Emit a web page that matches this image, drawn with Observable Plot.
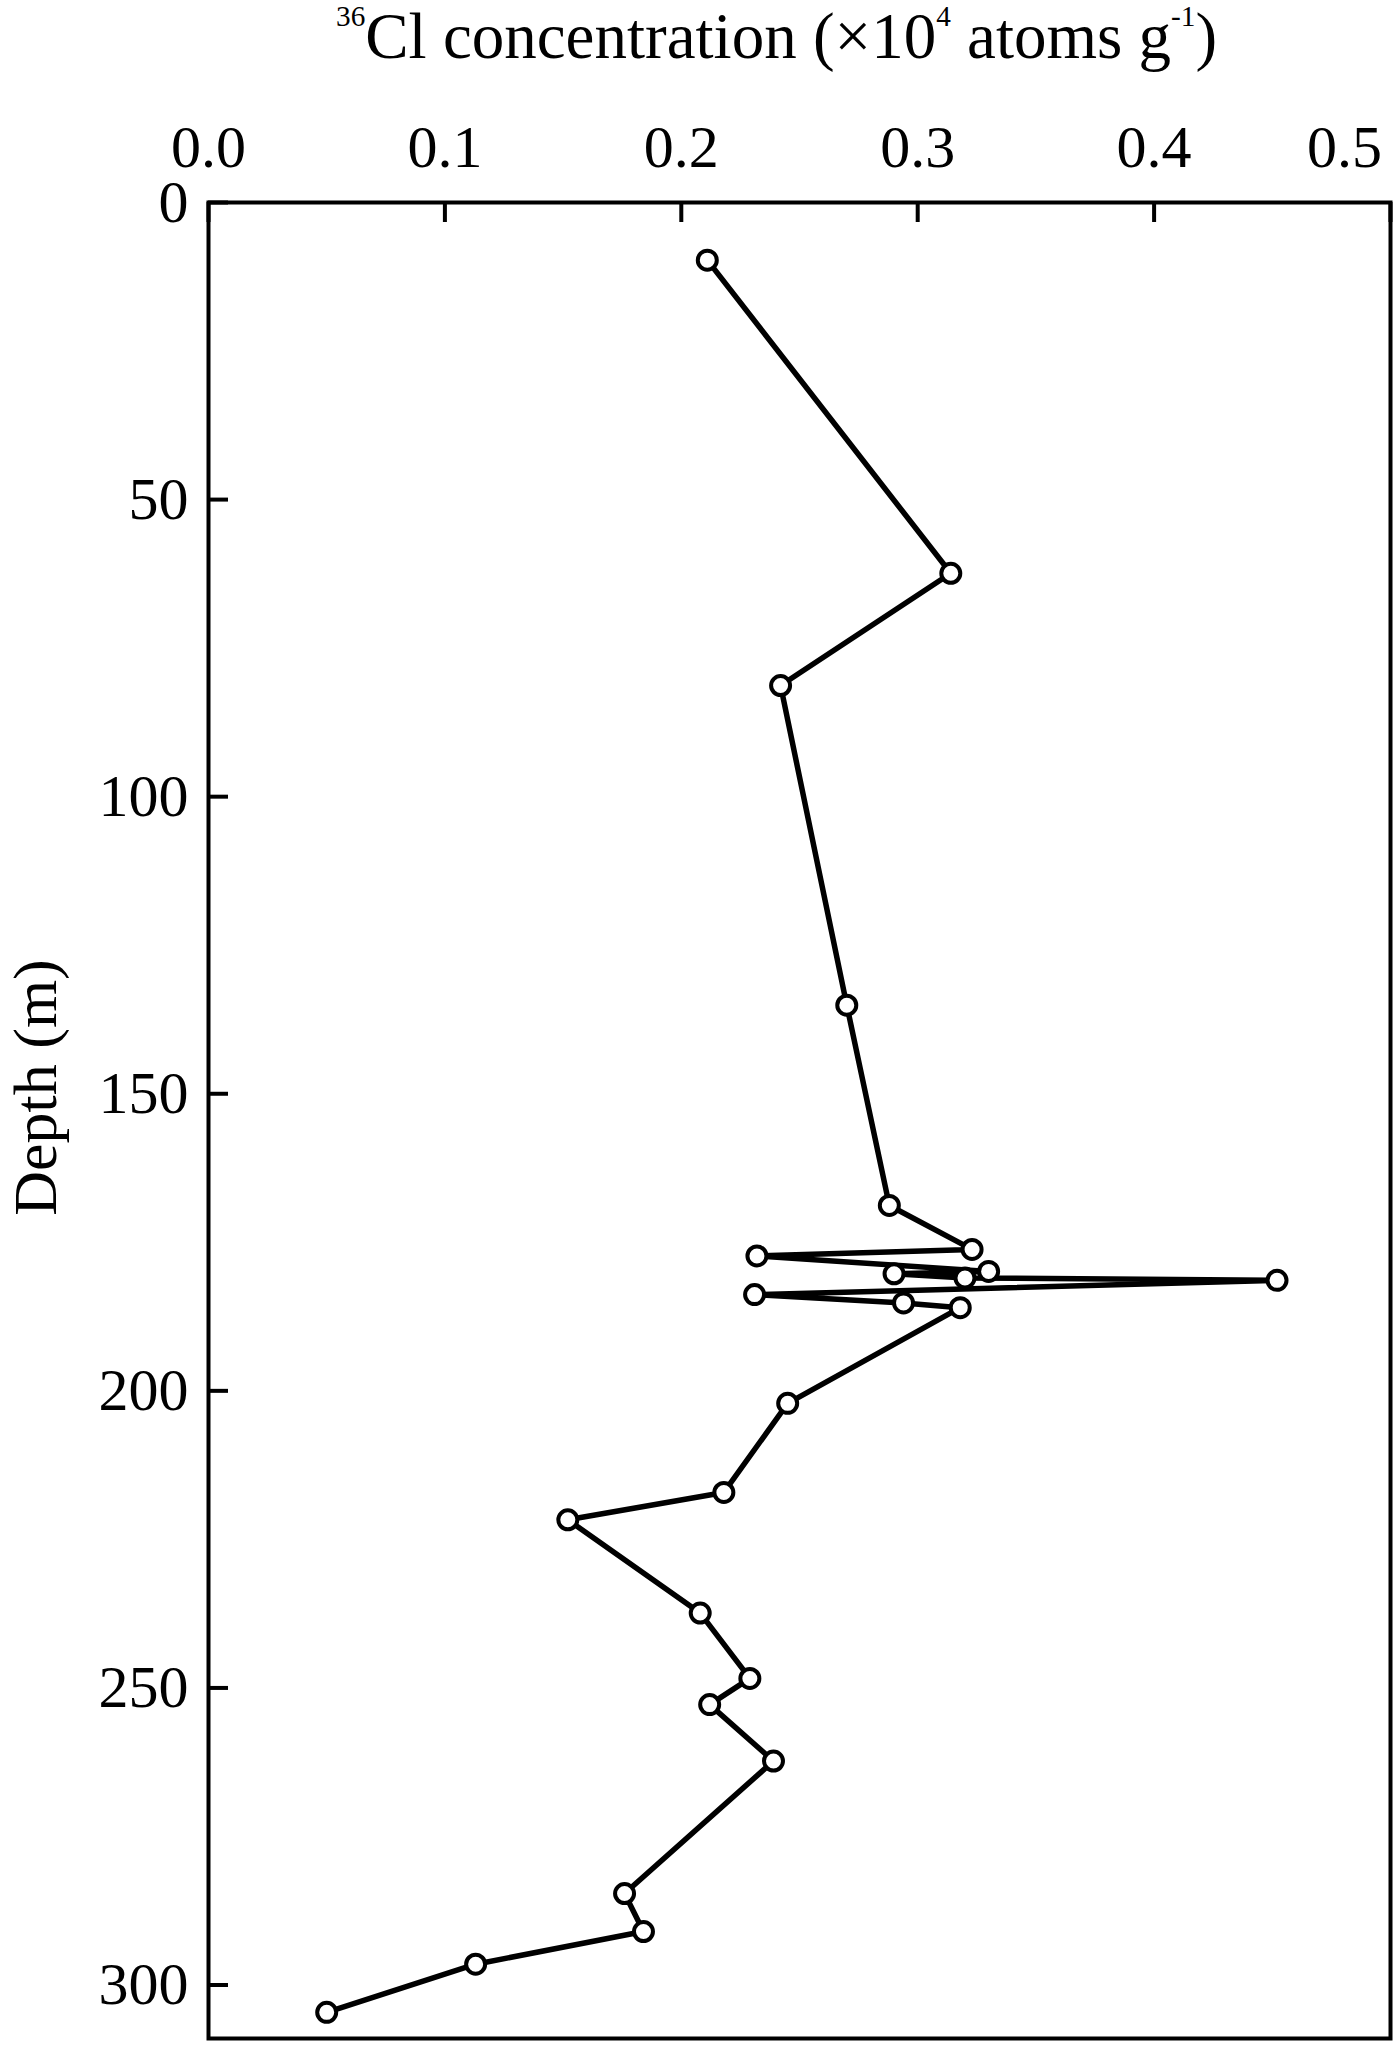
<!DOCTYPE html>
<html>
<head>
<meta charset="utf-8">
<script src="https://cdn.jsdelivr.net/npm/d3@7"></script>
<script src="https://cdn.jsdelivr.net/npm/@observablehq/plot@0.6"></script>
<style>
  html, body { margin: 0; padding: 0; background: #fff; }
  #wrap { position: relative; width: 1400px; height: 2056px; font-family: "Liberation Serif", "Times New Roman", serif; color: #000; }
  #title { position: absolute; left: 336px; top: -4px; height: 80px; line-height: 80px; font-size: 65px; white-space: nowrap; }
  #title sup { font-size: 0.45em; vertical-align: 0; position: relative; top: -1.1em; }
  #chart { position: absolute; left: 0; top: 80px; }
</style>
</head>
<body>
<div id="wrap">
  <div id="title"><sup>36</sup>Cl concentration (×10<sup>4</sup> atoms g<sup>-1</sup>)</div>
  <div id="chart"></div>
</div>
<script>
// Depth (m) of each sample, top to bottom
const depth = [9.7, 62.4, 81.3, 135.1, 168.8, 176.2, 177.3, 179.9, 180.3, 181.0, 181.4, 183.8, 185.2, 186.0, 202.1, 217.1, 221.7, 237.4, 248.4, 252.8, 262.3, 284.6, 291.0, 296.5, 304.6];
// 36Cl concentration (x10^4 atoms g^-1)
const conc = [0.211, 0.314, 0.242, 0.270, 0.288, 0.323, 0.232, 0.330, 0.290, 0.320, 0.452, 0.231, 0.294, 0.318, 0.245, 0.218, 0.152, 0.208, 0.229, 0.212, 0.239, 0.176, 0.184, 0.113, 0.050];
const xTicks = [0.0, 0.1, 0.2, 0.3, 0.4, 0.5];
const yTicks = [0, 50, 100, 150, 200, 250, 300];
const yLabel = "Depth (m)";

const data = depth.map((d, i) => ({depth: d, conc: conc[i]}));

const W = 1400, H = 1976;
const mL = 208, mR = 10, mT = 122, mB = 18;
const innerW = W - mL - mR, innerH = H - mT - mB;
const fmtX = d3.format(".1f");

const chart = Plot.plot({
  width: W,
  height: H,
  marginLeft: mL,
  marginRight: mR,
  marginTop: mT,
  marginBottom: mB,
  style: {fontFamily: "'Liberation Serif', 'Times New Roman', serif", fontSize: "60px", color: "#000", background: "#fff", overflow: "visible"},
  x: {domain: [0, 0.5]},
  y: {domain: [0, 309], reverse: true},
  marks: [
    Plot.axisX(xTicks.slice(0, -1), {anchor: "top", tickSize: 0, tickPadding: 36, tickFormat: fmtX, label: null, fontSize: 60}),
    Plot.axisX(xTicks.slice(-1), {anchor: "top", tickSize: 0, tickPadding: 36, tickFormat: fmtX, label: null, fontSize: 60, dx: -46}),
    Plot.axisY(yTicks, {anchor: "left", tickSize: 0, tickPadding: 20, tickFormat: d3.format("d"), label: null, fontSize: 60}),
    Plot.tickX(xTicks, {x: d => d, insetBottom: innerH - 20, stroke: "#000", strokeWidth: 4}),
    Plot.tickY(yTicks, {y: d => d, insetRight: innerW - 20, stroke: "#000", strokeWidth: 4}),
    Plot.text([yLabel], {text: d => d, frameAnchor: "left", textAnchor: "middle", dx: -172, dy: -33, rotate: -90, fontSize: 62, fill: "#000"}),
    Plot.line(data, {x: "conc", y: "depth", stroke: "#000", strokeWidth: 5.5, strokeLinejoin: "round"}),
    Plot.dot(data, {x: "conc", y: "depth", r: 9.5, stroke: "#000", strokeWidth: 4, fill: "#fff"}),
    Plot.frame({stroke: "#000", strokeWidth: 4})
  ]
});
document.getElementById("chart").appendChild(chart);
</script>
</body>
</html>
